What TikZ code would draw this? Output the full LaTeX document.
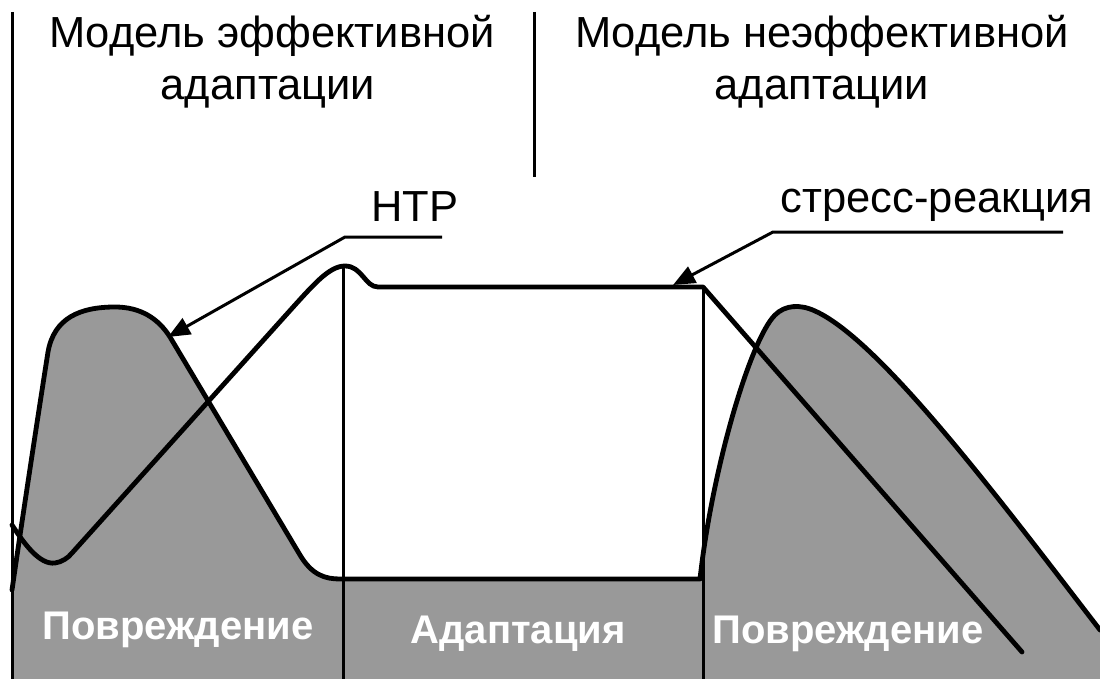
\documentclass[tikz,border=0pt]{standalone}
\usepackage{fontspec}
\setmainfont{Liberation Sans}
\usetikzlibrary{arrows.meta}
\definecolor{dmg}{gray}{0.6}
\begin{document}
\begin{tikzpicture}[x=1pt,y=-1pt,
  curve/.style={line width=4.8pt, line join=round, line cap=round},
  rule/.style={line width=3pt},
  leader/.style={line width=3pt, -{Triangle[length=22pt,width=18pt]}},
  title/.style={font=\fontsize{43.5}{48}\selectfont, anchor=base, inner sep=0pt},
  lab/.style={font=\fontsize{40}{44}\selectfont\bfseries, text=white, anchor=base, inner sep=0pt}]
\useasboundingbox (0,0) rectangle (1100,679);
% damage (grey) area
\fill[dmg] (12,679) -- (12,590) .. controls (25,500) and (42,390) .. (48,352)
  .. controls (54,318) and (80,307) .. (115,307)
  .. controls (140,307) and (158,318) .. (170,337)
  -- (300,555) .. controls (312,575) and (325,579) .. (340,579)
  -- (700,579) .. controls (712,470) and (750,340) .. (775,315)
  .. controls (785,305) and (800,304) .. (815,311)
  .. controls (880,340) and (1000,500) .. (1100,630)
  -- (1100,679) -- cycle;
% damage curve outline
\draw[curve] (12,590) .. controls (25,500) and (42,390) .. (48,352)
  .. controls (54,318) and (80,307) .. (115,307)
  .. controls (140,307) and (158,318) .. (170,337)
  -- (300,555) .. controls (312,575) and (325,579) .. (340,579)
  -- (700,579) .. controls (712,470) and (750,340) .. (775,315)
  .. controls (785,305) and (800,304) .. (815,311)
  .. controls (880,340) and (1000,500) .. (1100,630);
% stress-reaction curve
\draw[curve] (12,525) .. controls (25,545) and (40,565) .. (55,563)
  .. controls (62,562) and (68,558) .. (72,553)
  -- (295,305) .. controls (315,283) and (330,266) .. (345,266)
  .. controls (362,266) and (365,287) .. (378,287)
  -- (703,287) -- (1022,652);
% vertical rules
\draw[rule] (343,266) -- (343,679);
\draw[rule] (703,287) -- (703,679);
\draw[rule] (12,12) -- (12,679);
\draw[rule] (534,12) -- (534,177);
% titles
\node[title] (t1a) at (272,48) {Модель эффективной};
\node[title] (t1b) at (268,100) {адаптации};
\node[title] (t2a) at (822,48) {Модель неэффективной};
\node[title] (t2b) at (822,100) {адаптации};
% callouts
\node[title] (ntr) at (415,222) {НТР};
\coordinate (ntrEnd) at (442,237);
\coordinate (ntrKnee) at (345,237);
\coordinate (ntrTip) at (168,337);
\draw[leader] (ntrEnd) -- (ntrKnee) -- (ntrTip);
\node[title] (str) at (937,213) {стресс-реакция};
\coordinate (strEnd) at (1063,232);
\coordinate (strKnee) at (773,232);
\coordinate (strTip) at (673,285);
\draw[leader] (strEnd) -- (strKnee) -- (strTip);
% area labels
\node[lab] (d1) at (178,639) {Повреждение};
\node[lab] (ad) at (518,643) {Адаптация};
\node[lab] (d2) at (848,643) {Повреждение};
\end{tikzpicture}
\end{document}
